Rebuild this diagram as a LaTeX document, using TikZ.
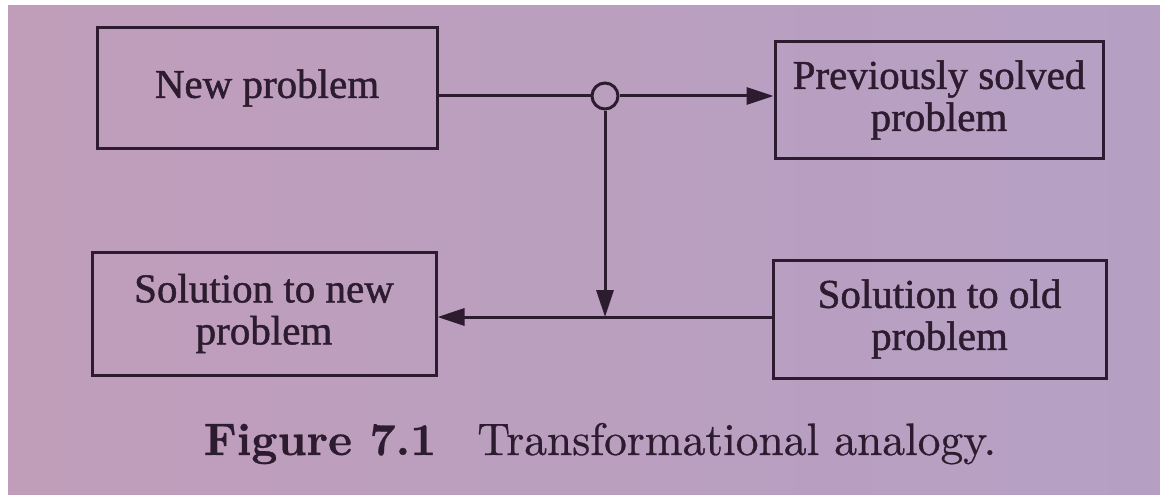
\documentclass[tikz,border=0pt]{standalone}
\usepackage{fontspec}
\newfontfamily\boxfont{Liberation Serif}[FakeBold=1.2]
\newfontfamily\capfont{lmroman10-regular.otf}[BoldFont=lmroman10-bold.otf, FakeBold=0.6]
\usetikzlibrary{arrows.meta}
\definecolor{paperL}{RGB}{192,158,186}
\definecolor{paperR}{RGB}{181,160,196}
\definecolor{ink}{RGB}{45,28,48}
\tikzset{
  block/.style={draw=ink, line width=3pt, text=ink, align=center,
    font=\boxfont\fontsize{41}{42}\selectfont, inner sep=0pt},
  flow/.style={draw=ink, line width=3pt, -{Triangle[length=27pt,width=17pt]}},
  junction/.style={draw=ink, line width=3pt, circle, minimum size=26pt, inner sep=0pt}
}
\begin{document}
\begin{tikzpicture}[x=1pt,y=-1pt]
  \useasboundingbox (0,0) rectangle (1160,495);
  % page background
  \fill[white] (0,0) rectangle (1160,495);
  \shade[left color=paperL, right color=paperR] (8,6) rectangle (1160,495);

  % boxes
  \node[block, minimum width=340pt, minimum height=121pt] (np) at (267,88) {New problem};
  \node[block, minimum width=328pt, minimum height=116pt] (ps) at (939,100) {Previously solved\\problem};
  \node[block, minimum width=344pt, minimum height=123pt] (sn) at (264,313.5) {Solution to new\\problem};
  \node[block, minimum width=333pt, minimum height=118pt] (so) at (939.5,319) {Solution to old\\problem};

  % junction on the upper line
  \node[junction] (j) at (605,96) {};
  \coordinate (m) at (605,317);

  % connectors
  \draw[draw=ink, line width=3pt] (np.east |- j) -- (j.west);
  \draw[flow] (j.east) -- (ps.west |- j);
  \draw[flow] (j.south) -- (m);
  \draw[flow] (so.west |- m) -- (sn.east |- m);

  % caption
  \node[anchor=base, text=ink, font=\capfont\fontsize{45.5}{48}\selectfont, inner sep=0pt] (cap) at (600,455)
    {\textbf{Figure 7.1}\hspace{0.9em}Transformational analogy.};
\end{tikzpicture}
\end{document}
